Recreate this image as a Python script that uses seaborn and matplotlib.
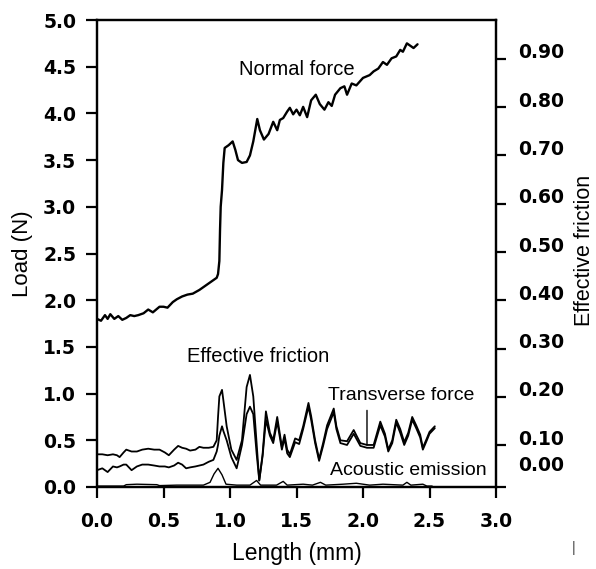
import matplotlib
matplotlib.use("Agg")
import matplotlib.pyplot as plt
import matplotlib.transforms as mtransforms
import seaborn as sns
import pandas as pd

# ---------------- data ----------------
nf_x = [0.0, 0.03, 0.06, 0.08, 0.10, 0.13, 0.16, 0.19, 0.22, 0.25, 0.28, 0.31, 0.35, 0.385, 0.42,
        0.47, 0.50, 0.53, 0.57, 0.60, 0.64, 0.68, 0.72, 0.77, 0.82, 0.86, 0.90, 0.91, 0.92, 0.925,
        0.93, 0.94, 0.95, 0.96, 0.99, 1.02, 1.04, 1.06, 1.09, 1.125, 1.15, 1.175, 1.205, 1.225, 1.255,
        1.29, 1.325, 1.355, 1.375, 1.40, 1.43, 1.45, 1.475, 1.50, 1.525, 1.55, 1.58, 1.61, 1.645, 1.675,
        1.71, 1.74, 1.765, 1.79, 1.83, 1.86, 1.88, 1.915, 1.95, 2.0, 2.05, 2.08, 2.115, 2.15, 2.18,
        2.215, 2.25, 2.28, 2.30, 2.33, 2.36, 2.38, 2.41]
nf_y = [1.80, 1.78, 1.84, 1.80, 1.85, 1.80, 1.83, 1.79, 1.81, 1.84, 1.83, 1.84, 1.86, 1.90, 1.87,
        1.93, 1.93, 1.92, 1.98, 2.01, 2.04, 2.06, 2.07, 2.11, 2.16, 2.20, 2.24, 2.28, 2.42, 2.75,
        3.0, 3.18, 3.47, 3.63, 3.66, 3.70, 3.61, 3.50, 3.47, 3.48, 3.55, 3.70, 3.94, 3.82, 3.72,
        3.78, 3.91, 3.82, 3.93, 3.95, 4.02, 4.06, 3.99, 4.04, 3.98, 4.07, 3.96, 4.14, 4.20, 4.10,
        4.04, 4.12, 4.08, 4.20, 4.27, 4.29, 4.20, 4.32, 4.30, 4.38, 4.41, 4.45, 4.48, 4.55, 4.52,
        4.59, 4.61, 4.68, 4.66, 4.75, 4.72, 4.70, 4.74]

fr_x = [0.0, 0.04, 0.08, 0.12, 0.15, 0.17, 0.20, 0.22, 0.26, 0.30, 0.34, 0.385, 0.43, 0.47, 0.51,
        0.54, 0.58, 0.61, 0.64, 0.67, 0.70, 0.74, 0.77, 0.80, 0.84, 0.875, 0.90, 0.91, 0.92, 0.94,
        0.95, 0.975, 1.01, 1.05, 1.09, 1.125, 1.15, 1.175, 1.20, 1.22, 1.245, 1.27, 1.30, 1.325, 1.355,
        1.39, 1.41, 1.43, 1.45, 1.49, 1.52, 1.55, 1.59, 1.61, 1.64, 1.67, 1.70, 1.73, 1.78, 1.80,
        1.83, 1.88, 1.93, 1.98, 2.03, 2.08, 2.13, 2.165, 2.19, 2.22, 2.25, 2.28, 2.31, 2.34, 2.37,
        2.40, 2.43, 2.45, 2.48, 2.50, 2.54]
eff_friction = [0.35, 0.35, 0.34, 0.35, 0.34, 0.32, 0.37, 0.40, 0.38, 0.38, 0.40, 0.41, 0.40, 0.40, 0.37,
                0.34, 0.40, 0.44, 0.42, 0.41, 0.39, 0.40, 0.43, 0.42, 0.42, 0.43, 0.50, 0.75, 0.97, 1.04,
                0.93, 0.65, 0.40, 0.29, 0.50, 1.07, 1.20, 0.97, 0.47, 0.07, 0.35, 0.81, 0.58, 0.50, 0.75,
                0.43, 0.56, 0.40, 0.35, 0.52, 0.50, 0.65, 0.90, 0.76, 0.50, 0.30, 0.47, 0.66, 0.84, 0.65,
                0.50, 0.49, 0.61, 0.47, 0.45, 0.45, 0.70, 0.57, 0.40, 0.50, 0.72, 0.62, 0.48, 0.58, 0.75,
                0.66, 0.56, 0.42, 0.52, 0.59, 0.65]
transverse = [0.18, 0.20, 0.16, 0.22, 0.21, 0.22, 0.24, 0.24, 0.18, 0.22, 0.24, 0.24, 0.23, 0.22, 0.22,
              0.21, 0.23, 0.26, 0.24, 0.20, 0.21, 0.22, 0.23, 0.24, 0.27, 0.29, 0.38, 0.45, 0.55, 0.65,
              0.60, 0.50, 0.32, 0.20, 0.45, 0.78, 0.86, 0.78, 0.36, 0.07, 0.33, 0.72, 0.55, 0.47, 0.70,
              0.40, 0.52, 0.36, 0.32, 0.48, 0.46, 0.62, 0.86, 0.72, 0.47, 0.28, 0.44, 0.62, 0.80, 0.62,
              0.47, 0.45, 0.57, 0.44, 0.42, 0.42, 0.66, 0.54, 0.38, 0.47, 0.69, 0.58, 0.45, 0.55, 0.72,
              0.63, 0.53, 0.40, 0.50, 0.57, 0.63]

ae_x = [0.0, 0.20, 0.22, 0.30, 0.45, 0.47, 0.60, 0.80, 0.85, 0.88, 0.91, 0.94, 0.97, 1.05, 1.15,
        1.20, 1.23, 1.35, 1.40, 1.43, 1.55, 1.62, 1.68, 1.72, 1.85, 1.95, 2.05, 2.15, 2.30, 2.33,
        2.36, 2.45, 2.48, 2.52]
ae_y = [0.01, 0.01, 0.025, 0.03, 0.025, 0.015, 0.02, 0.02, 0.05, 0.14, 0.20, 0.13, 0.03, 0.02, 0.02,
        0.07, 0.02, 0.02, 0.06, 0.02, 0.03, 0.02, 0.05, 0.02, 0.03, 0.04, 0.02, 0.03, 0.02, 0.05,
        0.02, 0.03, 0.01, 0.01]

x_ticks = [0.0, 0.5, 1.0, 1.5, 2.0, 2.5, 3.0]
load_ticks = [0.0, 0.5, 1.0, 1.5, 2.0, 2.5, 3.0, 3.5, 4.0, 4.5, 5.0]
fric_ticks = [0.10, 0.20, 0.30, 0.40, 0.50, 0.60, 0.70, 0.80, 0.90]
fric_labels = ["0.00", "0.10", "0.20", "0.30", "0.40", "0.50", "0.60", "0.70", "0.80", "0.90"]

# ---------------- figure ----------------
sns.set_theme(style="ticks")
plt.rcParams["font.family"] = ["Liberation Sans", "DejaVu Sans"]
plt.rcParams["text.color"] = "black"
plt.rcParams["axes.labelcolor"] = "black"

TICKFONT = dict(family="DejaVu Sans", weight="bold", size=13.5)

fig = plt.figure(figsize=(5.96, 5.69), dpi=100)
ax = fig.add_axes([97/596, 1 - 487/569, (496-97)/596, (487-20)/569])

nf = pd.DataFrame({"x": nf_x, "y": nf_y})
fr = pd.DataFrame({"x": fr_x, "ef": eff_friction, "tf": transverse})
ae = pd.DataFrame({"x": ae_x, "y": ae_y})

sns.lineplot(data=nf, x="x", y="y", ax=ax, color="black", lw=1.7, estimator=None, sort=False)
sns.lineplot(data=fr, x="x", y="ef", ax=ax, color="black", lw=1.3, estimator=None, sort=False)
sns.lineplot(data=fr, x="x", y="tf", ax=ax, color="black", lw=1.3, estimator=None, sort=False)
sns.lineplot(data=ae, x="x", y="y", ax=ax, color="black", lw=1.0, estimator=None, sort=False)

ax.set_xlim(0, 3.0)
ax.set_ylim(0, 5.0)
ax.set_xticks(x_ticks)
ax.set_xticklabels([f"{v:.1f}" for v in x_ticks], fontdict=TICKFONT)
ax.set_yticks(load_ticks)
ax.set_yticklabels([f"{v:.1f}" for v in load_ticks], fontdict=TICKFONT)
ax.set_xlabel("Length (mm)", fontsize=16.5, labelpad=8)
ax.set_ylabel("Load (N)", fontsize=16, labelpad=7)

for s in ax.spines.values():
    s.set_linewidth(1.6)
    s.set_color("black")
ax.tick_params(axis="x", direction="out", length=8, width=1.6, pad=10, colors="black")
ax.tick_params(axis="y", direction="out", length=8, width=1.6, pad=7, colors="black")

# right axis: effective friction
ax2 = ax.twinx()
ax2.set_ylim(0.013, 0.9808)
ax2.set_yticks([0.013] + fric_ticks)
ax2.set_yticklabels(fric_labels, fontdict=TICKFONT)
ax2.tick_params(axis="y", direction="out", length=7, width=1.6, pad=9, colors="black")
for i, lab in enumerate(ax2.get_yticklabels()):
    dy = 24 / 100 if i == 0 else 8 / 100
    lab.set_transform(lab.get_transform() + mtransforms.ScaledTranslation(0, dy, fig.dpi_scale_trans))
ax2.set_ylabel("Effective friction", fontsize=15.5)
ax2.yaxis.set_label_coords((574 - 97) / 399, (487 - 250) / 467)
for s in ax2.spines.values():
    s.set_linewidth(1.6)
    s.set_color("black")

# annotations
ax.text(1.504, 4.465, "Normal force", fontsize=14.5, ha="center", va="center")
ax.text(1.21, 1.40, "Effective friction", fontsize=14.5, ha="center", va="center")
ax.text(2.286, 0.985, "Transverse force", fontsize=14, ha="center", va="center")
ax.text(2.34, 0.18, "Acoustic emission", fontsize=14, ha="center", va="center")
ax.annotate("", xy=(2.03, 0.42), xytext=(2.03, 0.85),
            arrowprops=dict(arrowstyle="-", color="black", lw=1.0))
fig.text(574/596, 1 - 548/569, "|", fontsize=10, color="#444444", ha="center", va="center")

fig.savefig("out.png", dpi=100)
